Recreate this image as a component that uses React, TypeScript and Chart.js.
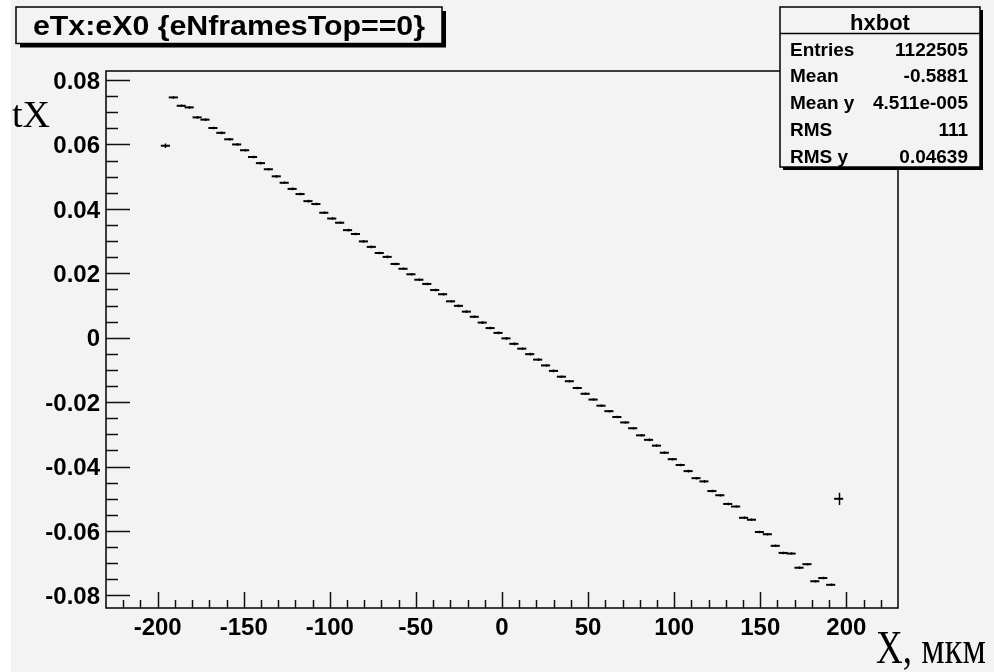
import React, { useEffect, useRef } from "react";
import { Chart, registerables } from "chart.js";

Chart.register(...registerables);

// ---- data ----
const binCenters = [
  -195.5, -190.9, -186.3, -181.7, -177.1, -172.5, -167.9, -163.3, -158.7, -154.1,
  -149.5, -144.9, -140.3, -135.7, -131.1, -126.5, -121.9, -117.3, -112.7, -108.1,
  -103.5, -98.9, -94.3, -89.7, -85.1, -80.5, -75.9, -71.3, -66.7, -62.1,
  -57.5, -52.9, -48.3, -43.7, -39.1, -34.5, -29.9, -25.3, -20.7, -16.1,
  -11.5, -6.9, -2.3, 2.3, 6.9, 11.5, 16.1, 20.7, 25.3, 29.9,
  34.5, 39.1, 43.7, 48.3, 52.9, 57.5, 62.1, 66.7, 71.3, 75.9,
  80.5, 85.1, 89.7, 94.3, 98.9, 103.5, 108.1, 112.7, 117.3, 121.9,
  126.5, 131.1, 135.7, 140.3, 144.9, 149.5, 154.1, 158.7, 163.3, 167.9,
  172.5, 177.1, 181.7, 186.3, 190.9, 195.5,
];

const tXMeans = [
  0.0596, 0.0746, 0.072, 0.0715, 0.0684, 0.0677, 0.0651, 0.0636, 0.0616, 0.06,
  0.0582, 0.0561, 0.0542, 0.0523, 0.0501, 0.0481, 0.0462, 0.0446, 0.0424, 0.0415,
  0.0388, 0.037, 0.0357, 0.0334, 0.0322, 0.0299, 0.0282, 0.0263, 0.0251, 0.0229,
  0.0214, 0.0197, 0.018, 0.0167, 0.0148, 0.0135, 0.0113, 0.0099, 0.0081, 0.0065,
  0.0047, 0.003, 0.0015, -0.0002, -0.0019, -0.0034, -0.0051, -0.0068, -0.0086, -0.0103,
  -0.0121, -0.0135, -0.0156, -0.0174, -0.0192, -0.0211, -0.0228, -0.0246, -0.0263, -0.0281,
  -0.0303, -0.0317, -0.0335, -0.0357, -0.0377, -0.0395, -0.0414, -0.0436, -0.0446, -0.0476,
  -0.0489, -0.0516, -0.0524, -0.0559, -0.0565, -0.0603, -0.061, -0.0646, -0.0668, -0.067,
  -0.0714, -0.0703, -0.0756, -0.0746, -0.0767, -0.05,
];

const tXErrors = [
  0.0007, 0.0004, 0.0004, 0.0004, 0.0004, 0.0004, 0.0004, 0.0004, 0.0004, 0.0004,
  0.0004, 0.0004, 0.0004, 0.0004, 0.0004, 0.0004, 0.0004, 0.0004, 0.0004, 0.0004,
  0.0004, 0.0004, 0.0004, 0.0004, 0.0004, 0.0004, 0.0004, 0.0004, 0.0004, 0.0004,
  0.0004, 0.0004, 0.0004, 0.0004, 0.0004, 0.0004, 0.0004, 0.0004, 0.0004, 0.0004,
  0.0004, 0.0004, 0.0004, 0.0004, 0.0004, 0.0004, 0.0004, 0.0004, 0.0004, 0.0004,
  0.0004, 0.0004, 0.0004, 0.0004, 0.0004, 0.0004, 0.0004, 0.0004, 0.0004, 0.0004,
  0.0004, 0.0004, 0.0004, 0.0004, 0.0004, 0.0004, 0.0004, 0.0004, 0.0004, 0.0004,
  0.0004, 0.0004, 0.0004, 0.0004, 0.0004, 0.0004, 0.0004, 0.0004, 0.0004, 0.0004,
  0.0004, 0.0004, 0.0004, 0.0004, 0.0004, 0.0019,
];

const binWidth = 4.6;
const xRange = [-230, 230];
const yRange = [-0.0839, 0.0828];

const xTickValues = [-200, -150, -100, -50, 0, 50, 100, 150, 200];
const xTickLabels = ["-200", "-150", "-100", "-50", "0", "50", "100", "150", "200"];
const yTickValues = [0.08, 0.06, 0.04, 0.02, 0, -0.02, -0.04, -0.06, -0.08];
const yTickLabels = ["0.08", "0.06", "0.04", "0.02", "0", "-0.02", "-0.04", "-0.06", "-0.08"];
const xMinorStep = 10;
const yMinorStep = 0.005;

const titleText = "eTx:eX0 {eNframesTop==0}";
const statsTitle = "hxbot";
const statsLabels = ["Entries", "Mean", "Mean y", "RMS", "RMS y"];
const statsValues = ["1122505", "-0.5881", "4.511e-005", "111", "0.04639"];
const yAxisTitle = "tX";
const xAxisTitle = "X, мкм";

const BG = "#f3f3f3";
const SANS = "Liberation Sans";
const SERIF = "Liberation Serif";

function drawStretchedText(
  ctx: CanvasRenderingContext2D,
  text: string,
  font: string,
  x: number,
  y: number,
  targetWidth: number,
  align: "left" | "center" | "right"
) {
  ctx.save();
  ctx.font = font;
  ctx.textBaseline = "alphabetic";
  ctx.textAlign = "left";
  const w = ctx.measureText(text).width;
  const sx = targetWidth / w;
  let left = x;
  if (align === "center") left = x - targetWidth / 2;
  if (align === "right") left = x - targetWidth;
  ctx.translate(left, y);
  ctx.scale(sx, 1);
  ctx.fillText(text, 0, 0);
  ctx.restore();
}

const rootPlugin = {
  id: "rootDecor",
  beforeDraw(chart: any) {
    const ctx = chart.ctx as CanvasRenderingContext2D;
    ctx.save();
    ctx.fillStyle = "#ffffff";
    ctx.fillRect(0, 0, chart.width, chart.height);
    ctx.fillStyle = BG;
    ctx.fillRect(11, 0, chart.width - 11, chart.height);
    ctx.restore();
  },
  afterDatasetsDraw(chart: any) {
    const ctx = chart.ctx as CanvasRenderingContext2D;
    const xs = chart.scales.x;
    const ys = chart.scales.y;
    ctx.save();
    ctx.strokeStyle = "#000";
    ctx.lineWidth = 1.5;
    ctx.beginPath();
    for (let i = 0; i < binCenters.length; i++) {
      const px = Math.round(xs.getPixelForValue(binCenters[i])) + 0.5;
      const y1 = ys.getPixelForValue(tXMeans[i] + tXErrors[i]);
      const y2 = ys.getPixelForValue(tXMeans[i] - tXErrors[i]);
      ctx.moveTo(px, y1);
      ctx.lineTo(px, y2);
    }
    ctx.stroke();
    ctx.restore();
  },
  afterDraw(chart: any) {
    const ctx = chart.ctx as CanvasRenderingContext2D;
    const xs = chart.scales.x;
    const ys = chart.scales.y;
    const a = chart.chartArea;
    ctx.save();
    // frame
    ctx.strokeStyle = "#000";
    ctx.lineWidth = 1.5;
    ctx.strokeRect(a.left, a.top, a.right - a.left, a.bottom - a.top);

    // x ticks (inside, from bottom frame upward)
    ctx.strokeStyle = "#111";
    ctx.beginPath();
    for (let v = -220; v <= 220; v += xMinorStep) {
      const major = v % 50 === 0;
      const px = Math.round(xs.getPixelForValue(v)) + 0.5;
      ctx.moveTo(px, a.bottom);
      ctx.lineTo(px, a.bottom - (major ? 16 : 8));
    }
    // y ticks (inside, from left frame rightward)
    for (let k = -16; k <= 16; k++) {
      const v = k * yMinorStep;
      if (v < yRange[0] || v > yRange[1]) continue;
      const major = k % 4 === 0;
      const py = Math.round(ys.getPixelForValue(v)) + 0.5;
      ctx.moveTo(a.left, py);
      ctx.lineTo(a.left + (major ? 24 : 12), py);
    }
    ctx.stroke();

    // tick labels, placed through the scales
    ctx.fillStyle = "#000";
    ctx.font = `bold 24px "${SANS}"`;
    ctx.textBaseline = "alphabetic";
    ctx.textAlign = "center";
    xTickValues.forEach((v, i) => {
      ctx.fillText(xTickLabels[i], xs.getPixelForValue(v), a.bottom + 26.5);
    });
    ctx.textAlign = "right";
    yTickValues.forEach((v, i) => {
      ctx.fillText(yTickLabels[i], a.left - 6, ys.getPixelForValue(v) + 8.7);
    });

    // title box
    ctx.fillStyle = "#000";
    ctx.fillRect(20, 11, 426, 36.5);
    ctx.fillStyle = BG;
    ctx.fillRect(16, 7, 426, 36.5);
    ctx.lineWidth = 1.5;
    ctx.strokeStyle = "#000";
    ctx.strokeRect(16, 7, 426, 36.5);
    ctx.fillStyle = "#000";
    drawStretchedText(ctx, titleText, `bold 28px "${SANS}"`, 229, 35, 392, "center");

    // stats box
    ctx.fillStyle = "#000";
    ctx.fillRect(783, 10, 200, 160);
    ctx.fillStyle = BG;
    ctx.fillRect(780, 7, 200, 160);
    ctx.strokeRect(780, 7, 200, 160);
    ctx.beginPath();
    ctx.moveTo(780, 33.5);
    ctx.lineTo(980, 33.5);
    ctx.stroke();
    ctx.fillStyle = "#000";
    ctx.font = `bold 22px "${SANS}"`;
    ctx.textAlign = "center";
    ctx.textBaseline = "alphabetic";
    ctx.fillText(statsTitle, 880, 29.5);
    ctx.font = `bold 19px "${SANS}"`;
    for (let i = 0; i < statsLabels.length; i++) {
      const by = 55.5 + 26.8 * i;
      ctx.textAlign = "left";
      ctx.fillText(statsLabels[i], 790, by);
      ctx.textAlign = "right";
      ctx.fillText(statsValues[i], 968, by);
    }

    // serif axis titles
    ctx.fillStyle = "#000";
    drawStretchedText(ctx, yAxisTitle, `38px "${SERIF}"`, 12, 127, 38, "left");
    drawStretchedText(ctx, xAxisTitle, `46px "${SERIF}"`, 876, 663, 110, "left");
    ctx.restore();
  },
};

export default function App() {
  const canvasRef = useRef<HTMLCanvasElement | null>(null);

  useEffect(() => {
    const canvas = canvasRef.current;
    if (!canvas) return;
    const chart = new Chart(canvas, {
      type: "scatter",
      data: {
        datasets: [
          {
            label: "hxbot",
            data: binCenters.map((x, i) => ({ x, y: tXMeans[i] })),
            pointStyle: "line",
            pointRadius: (c: any) => {
              const s = c.chart.scales.x;
              if (!s) return 4;
              return Math.abs(s.getPixelForValue(binWidth / 2) - s.getPixelForValue(0)) + 0.6;
            },
            pointHoverRadius: 4,
            pointBorderWidth: 2,
            borderColor: "#000",
            backgroundColor: "#000",
            showLine: false,
          } as any,
        ],
      },
      options: {
        animation: false,
        responsive: false,
        maintainAspectRatio: false,
        events: [],
        layout: { padding: { left: 0, top: 71, right: 96, bottom: 0 } },
        plugins: {
          legend: { display: false },
          tooltip: { enabled: false },
          title: { display: false },
        },
        scales: {
          x: {
            type: "linear",
            min: xRange[0],
            max: xRange[1],
            grid: { display: false, drawTicks: false },
            border: { display: false },
            ticks: { display: false },
            afterBuildTicks: (s: any) => {
              s.ticks = xTickValues.map((v) => ({ value: v }));
            },
            afterFit: (s: any) => {
              s.height = 64;
              s.paddingLeft = 0;
              s.paddingRight = 0;
            },
          },
          y: {
            type: "linear",
            min: yRange[0],
            max: yRange[1],
            grid: { display: false, drawTicks: false },
            border: { display: false },
            ticks: { display: false },
            afterBuildTicks: (s: any) => {
              s.ticks = yTickValues.map((v) => ({ value: v }));
            },
            afterFit: (s: any) => {
              s.width = 106;
              s.paddingTop = 0;
              s.paddingBottom = 0;
            },
          },
        },
      },
      plugins: [rootPlugin],
    });
    return () => chart.destroy();
  }, []);

  return (
    <div style={{ position: "fixed", left: 0, top: 0, width: 994, height: 672 }}>
      <canvas ref={canvasRef} width={994} height={672} style={{ width: 994, height: 672, display: "block" }} />
    </div>
  );
}
